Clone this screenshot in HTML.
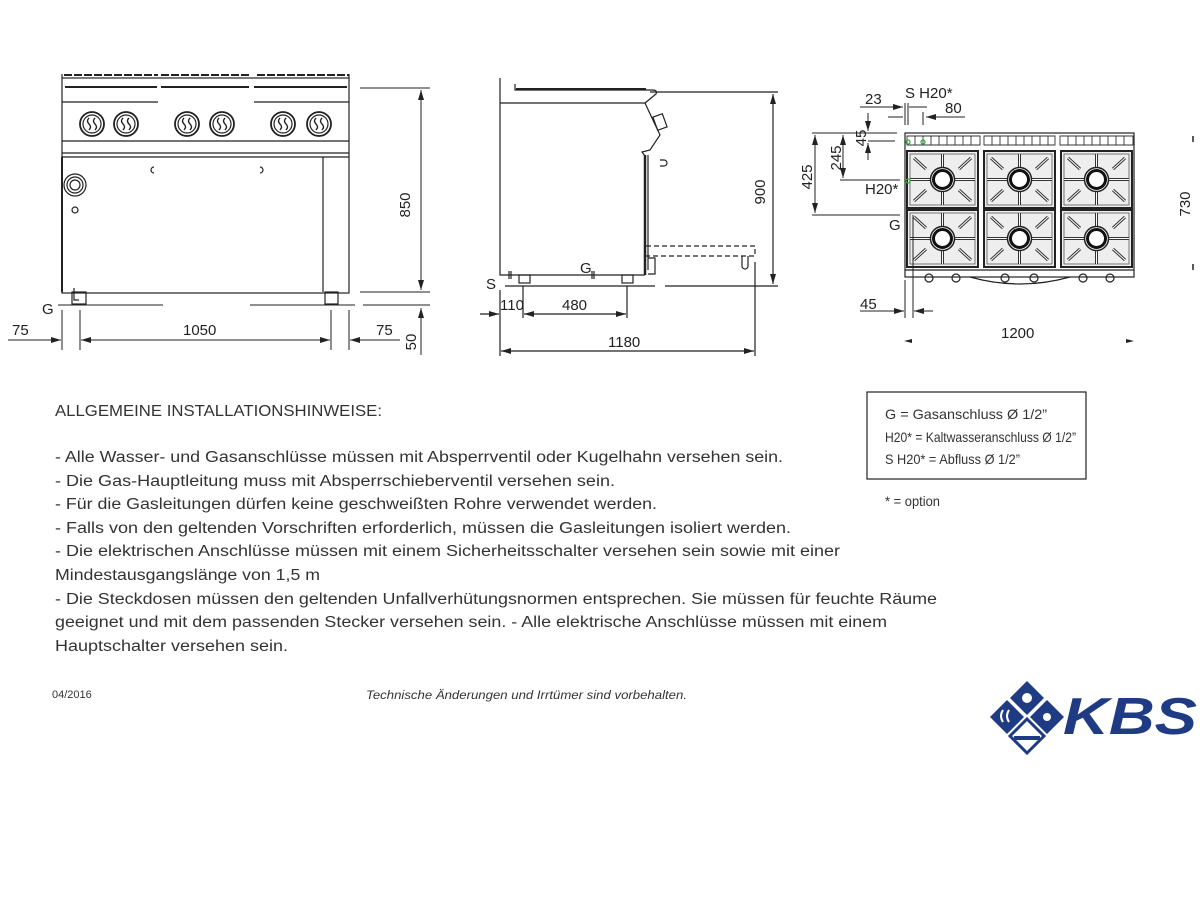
<!DOCTYPE html>
<html><head><meta charset="utf-8"><style>
html,body{margin:0;padding:0;background:#fff;}
svg{display:block;}
.t{font-family:"Liberation Sans",sans-serif;fill:#333;}
.d{font-family:"Liberation Sans",sans-serif;fill:#222;font-size:15px;}
</style></head><body>
<svg width="1200" height="900" viewBox="0 0 1200 900" xmlns="http://www.w3.org/2000/svg">
<defs>
<marker id="a" markerWidth="10" markerHeight="6" refX="10" refY="3" orient="auto-start-reverse" markerUnits="userSpaceOnUse"><path d="M0,0 L10,3 L0,6 z" fill="#222"/></marker>
<g id="knob"><circle r="12" fill="none" stroke="#222" stroke-width="1.8"/><circle r="9" fill="none" stroke="#222" stroke-width="1.2"/><path d="M-3,-6 q-3,3 0,6 q3,3 0,6 M3,-6 q-3,3 0,6 q3,3 0,6" fill="none" stroke="#222" stroke-width="1.4"/></g>
<g id="grate">
<rect x="0" y="0" width="71" height="57" fill="#eee" stroke="#222" stroke-width="2"/>
<rect x="3" y="3" width="65" height="51" fill="none" stroke="#555" stroke-width="0.8"/>
<path d="M35.5,3 V54 M3,28.5 H68" stroke="#333" stroke-width="3" fill="none"/>
<path d="M35.5,3 V54 M3,28.5 H68" stroke="#fff" stroke-width="1" fill="none"/>
<path d="M7,7 L19,18 M64,7 L52,18 M7,50 L19,39 M64,50 L52,39" stroke="#333" stroke-width="3"/>
<path d="M7,7 L19,18 M64,7 L52,18 M7,50 L19,39 M64,50 L52,39" stroke="#fff" stroke-width="1"/>
<circle cx="35.5" cy="28.5" r="12" fill="#fff" stroke="#222" stroke-width="1.5"/>
<circle cx="35.5" cy="28.5" r="9" fill="#fff" stroke="#111" stroke-width="3"/>
</g>
</defs>

<!-- ===== FRONT VIEW ===== -->
<g stroke="#222" fill="none" stroke-width="1.2">
<path d="M62,74 V78 M349,74 V78"/>
<path d="M64,75 h94 M161,75 h90 M257,75 h92" stroke-dasharray="8,2" stroke-width="2"/>
<rect x="62" y="78" width="287" height="215"/>
<path d="M65,87 h92 M161,87 h88 M254,87 h93" stroke-width="2"/>
<path d="M62,102 h96 M254,102 h95"/>
<path d="M62,141 H349 M62,153 H349 M62,157 H349"/>
<path d="M323,157 V292"/>
<path d="M62,292 V157" stroke-width="2"/>
<rect x="72" y="292" width="14" height="12"/>
<rect x="325" y="292" width="13" height="12"/>
<path d="M74,288 v12 h5"/>
<path d="M154,167 a3,3 0 0,0 0,6 M260,167 a3,3 0 0,1 0,6"/>
<circle cx="75" cy="185" r="11"/><circle cx="75" cy="185" r="8"/><circle cx="75" cy="185" r="5"/>
<circle cx="75" cy="210" r="3"/>
</g>
<g transform="translate(92,124)"><use href="#knob"/></g>
<g transform="translate(126,124)"><use href="#knob"/></g>
<g transform="translate(187,124)"><use href="#knob"/></g>
<g transform="translate(222,124)"><use href="#knob"/></g>
<g transform="translate(283,124)"><use href="#knob"/></g>
<g transform="translate(319,124)"><use href="#knob"/></g>
<g stroke="#222" fill="none" stroke-width="1">
<path d="M360,88 H430 M360,292 H430"/>
<path d="M421,90 V290" marker-start="url(#a)" marker-end="url(#a)"/>
<path d="M58,305 H163 M250,305 H355 M363,305 H430"/>
<path d="M421,308 V355" marker-start="url(#a)"/>
<path d="M62,310 V350 M80,310 V350 M331,310 V350 M349,310 V350"/>
<path d="M8,340 H61" marker-end="url(#a)"/>
<path d="M81,340 H330" marker-start="url(#a)" marker-end="url(#a)"/>
<path d="M350,340 H400" marker-start="url(#a)"/>
</g>
<text class="d" x="410" y="205" transform="rotate(-90 410 205)" text-anchor="middle" font-size="17">850</text>
<text class="d" x="42" y="314" font-size="16">G</text>
<text class="d" x="12" y="335" font-size="16">75</text>
<text class="d" x="183" y="335" font-size="16">1050</text>
<text class="d" x="376" y="335" font-size="16">75</text>
<text class="d" x="416" y="342" transform="rotate(-90 416 342)" text-anchor="middle" font-size="16">50</text>

<!-- ===== SIDE VIEW ===== -->
<g stroke="#222" fill="none" stroke-width="1.2">
<path d="M500,78 V275 H645 M500,103 H645"/>
<path d="M515,84 V90 H652 q6,0 4,4 L645,103"/>
<path d="M516,89 H646" stroke-width="2"/>
<path d="M645,103 L652,118 L660,135 L650,150 L642,152 L645,156"/>
<rect x="655" y="115" width="10" height="14" transform="rotate(-20 660 122)"/>
<path d="M645,155 V275" stroke-width="2.5"/>
<path d="M648,155 V270 M660,160 h4 a3,3 0 0,1 0,6 h-4"/>
<path d="M646,246 H755 V256 H646" stroke-dasharray="5,3"/>
<path d="M648,258 h7 v16 h-7"/>
<path d="M742,256 v10 a3,3 0 0,0 6,0 v-10"/>
<rect x="519" y="275" width="11" height="8"/><rect x="622" y="275" width="11" height="8"/>
<path d="M509,271 v8 M511,271 v8 M592,271 v8 M594,271 v8"/>
<path d="M505,286 H655 M665,286 H778 M650,92 H778"/>
<path d="M773,94 V284" marker-start="url(#a)" marker-end="url(#a)"/>
<path d="M500,290 V356 M523,286 V318 M627,286 V318 M755,262 V356"/>
<path d="M480,314 H499" marker-end="url(#a)"/>
<path d="M524,314 H626" marker-start="url(#a)" marker-end="url(#a)"/>
<path d="M501,351 H754" marker-start="url(#a)" marker-end="url(#a)"/>
</g>
<text class="d" x="765" y="192" transform="rotate(-90 765 192)" text-anchor="middle" font-size="16">900</text>
<text class="d" x="486" y="289" font-size="15">S</text>
<text class="d" x="580" y="273" font-size="15">G</text>
<text class="d" x="500" y="310" font-size="15">110</text>
<text class="d" x="562" y="310" font-size="15">480</text>
<text class="d" x="608" y="347" font-size="16">1180</text>

<!-- ===== TOP VIEW ===== -->
<g stroke="#222" fill="none" stroke-width="1.2">
<rect x="905" y="133" width="229" height="144"/>
<path d="M905,270 H1134"/>
</g>
<g stroke="#333" fill="none" stroke-width="0.9">
<path d="M907,136 h73 v9 h-73 z M984,136 h71 v9 h-71 z M1060,136 h73 v9 h-73 z"/>
<path d="M915,136v9M923,136v9M931,136v9M939,136v9M947,136v9M955,136v9M963,136v9M971,136v9 M992,136v9M1000,136v9M1008,136v9M1016,136v9M1024,136v9M1032,136v9M1040,136v9M1048,136v9 M1068,136v9M1076,136v9M1084,136v9M1092,136v9M1100,136v9M1108,136v9M1116,136v9M1124,136v9"/>
</g>
<use href="#grate" x="907" y="151"/>
<use href="#grate" x="984" y="151"/>
<use href="#grate" x="1061" y="151"/>
<use href="#grate" x="907" y="210"/>
<use href="#grate" x="984" y="210"/>
<use href="#grate" x="1061" y="210"/>
<g stroke="#222" fill="none" stroke-width="1.2">
<path d="M970,277 q50,14 100,0"/>
<circle cx="929" cy="278" r="4"/><circle cx="956" cy="278" r="4"/><circle cx="1005" cy="278" r="4"/><circle cx="1034" cy="278" r="4"/><circle cx="1083" cy="278" r="4"/><circle cx="1110" cy="278" r="4"/>
</g>
<g fill="none" stroke="#3a3" stroke-width="1.2"><circle cx="908" cy="142" r="2"/><circle cx="923" cy="142" r="2"/><circle cx="908" cy="181" r="2"/></g>
<g stroke="#222" fill="none" stroke-width="1">
<path d="M860,107 H903" marker-end="url(#a)"/>
<path d="M909,107 H927"/>
<path d="M888,117 H903 M905,103 V125 M908,103 V125 M923,112 V125"/>
<path d="M926,117 H965" marker-start="url(#a)"/>
<path d="M812,133 H897 M868,141 H895 M840,180 H900 M812,215 H900"/>
<path d="M868,113 V131" marker-end="url(#a)"/>
<path d="M868,160 V143" marker-end="url(#a)"/>
<path d="M843,135 V178" marker-start="url(#a)" marker-end="url(#a)"/>
<path d="M815,135 V213" marker-start="url(#a)" marker-end="url(#a)"/>
<path d="M905,280 V318 M913,215 V318"/>
<path d="M860,311 H904" marker-end="url(#a)"/>
<path d="M914,311 H933" marker-start="url(#a)"/>
</g>
<text class="d" x="865" y="104" font-size="14">23</text>
<text class="d" x="905" y="98" font-size="14">S  H20*</text>
<text class="d" x="945" y="113" font-size="14">80</text>
<text class="d" x="866" y="138" transform="rotate(-90 866 138)" text-anchor="middle" font-size="14">45</text>
<text class="d" x="841" y="158" transform="rotate(-90 841 158)" text-anchor="middle" font-size="14">245</text>
<text class="d" x="812" y="177" transform="rotate(-90 812 177)" text-anchor="middle" font-size="14">425</text>
<text class="d" x="865" y="194" font-size="14">H20*</text>
<text class="d" x="889" y="230" font-size="14">G</text>
<text class="d" x="860" y="309" font-size="14">45</text>
<text class="d" x="1001" y="338" font-size="14">1200</text>
<text class="d" x="1190" y="204" transform="rotate(-90 1190 204)" text-anchor="middle" font-size="14">730</text>
<path d="M1193,136 v6 M1193,264 v6" stroke="#222" stroke-width="1.5"/>
<path d="M904,341 l8,-2 v4 z M1134,341 l-8,-2 v4 z" fill="#222"/>

<!-- ===== TEXT ===== -->
<g class="t" font-size="15.5">
<text x="55" y="416" textLength="327" lengthAdjust="spacingAndGlyphs">ALLGEMEINE INSTALLATIONSHINWEISE:</text>
<text x="55" y="462" textLength="728" lengthAdjust="spacingAndGlyphs">- Alle Wasser- und Gasanschlüsse müssen mit Absperrventil oder Kugelhahn versehen sein.</text>
<text x="55" y="486" textLength="560" lengthAdjust="spacingAndGlyphs">- Die Gas-Hauptleitung muss mit Absperrschieberventil versehen sein.</text>
<text x="55" y="509" textLength="602" lengthAdjust="spacingAndGlyphs">- Für die Gasleitungen dürfen keine geschweißten Rohre verwendet werden.</text>
<text x="55" y="533" textLength="736" lengthAdjust="spacingAndGlyphs">- Falls von den geltenden Vorschriften erforderlich, müssen die Gasleitungen isoliert werden.</text>
<text x="55" y="556" textLength="785" lengthAdjust="spacingAndGlyphs">- Die elektrischen Anschlüsse müssen mit einem Sicherheitsschalter versehen sein sowie mit einer</text>
<text x="55" y="580" textLength="265" lengthAdjust="spacingAndGlyphs">Mindestausgangslänge von 1,5 m</text>
<text x="55" y="604" textLength="882" lengthAdjust="spacingAndGlyphs">- Die Steckdosen müssen den geltenden Unfallverhütungsnormen entsprechen. Sie müssen für feuchte Räume</text>
<text x="55" y="627" textLength="832" lengthAdjust="spacingAndGlyphs">geeignet und mit dem passenden Stecker versehen sein. - Alle elektrische Anschlüsse müssen mit einem</text>
<text x="55" y="651" textLength="233" lengthAdjust="spacingAndGlyphs">Hauptschalter versehen sein.</text>
</g>

<rect x="867" y="392" width="219" height="87" fill="none" stroke="#222" stroke-width="1.2"/>
<g class="t" font-size="14" fill="#111">
<text x="885" y="419" textLength="162" lengthAdjust="spacingAndGlyphs">G = Gasanschluss Ø 1/2”</text>
<text x="885" y="442" textLength="191" lengthAdjust="spacingAndGlyphs">H20* = Kaltwasseranschluss Ø 1/2”</text>
<text x="885" y="464" textLength="135" lengthAdjust="spacingAndGlyphs">S H20* = Abfluss Ø 1/2”</text>
<text x="885" y="506" textLength="55" lengthAdjust="spacingAndGlyphs">* = option</text>
</g>

<text class="t" x="52" y="698" font-size="11">04/2016</text>
<text class="t" x="366" y="699" font-size="11.5" font-style="italic" textLength="321" lengthAdjust="spacingAndGlyphs">Technische Änderungen und Irrtümer sind vorbehalten.</text>

<!-- ===== LOGO ===== -->
<g fill="#1f3b84">
<path d="M1027,681 L1044,698 L1027,715 L1010,698 z"/>
<path d="M1007,700 L1024,717 L1007,734 L990,717 z"/>
<path d="M1047,700 L1064,717 L1047,734 L1030,717 z"/>
<path d="M1027,719 L1044,736 L1027,753 L1010,736 z" fill="none" stroke="#1f3b84" stroke-width="3"/>
<rect x="1014" y="736" width="26" height="4"/>
<text x="1063" y="734" font-family="Liberation Sans,sans-serif" font-weight="bold" font-style="italic" font-size="52" textLength="134" lengthAdjust="spacingAndGlyphs">KBS</text>
</g>
<g fill="#fff"><circle cx="1027" cy="698" r="5"/><circle cx="1047" cy="717" r="4"/><path d="M1003,710 q-4,6 0,12 M1009,710 q-4,6 0,12" stroke="#fff" stroke-width="2" fill="none"/></g>
</svg>
</body></html>
